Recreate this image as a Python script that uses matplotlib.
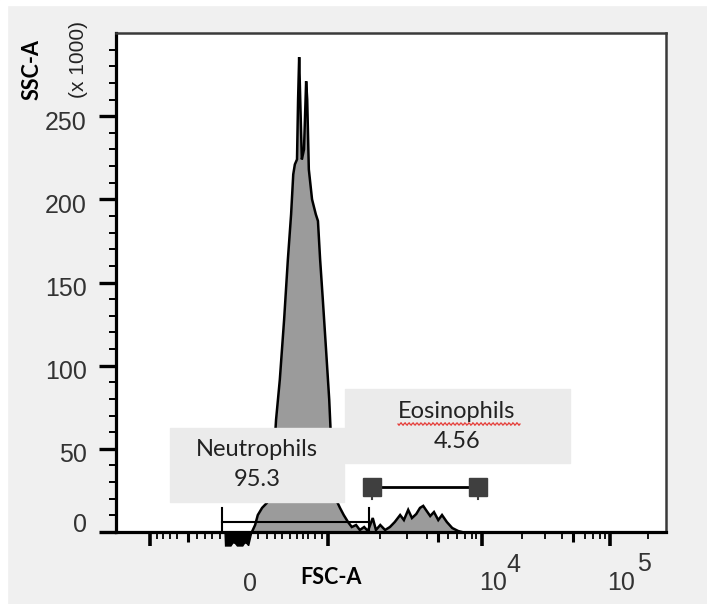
import numpy as np
import matplotlib
matplotlib.use("Agg")
import matplotlib.pyplot as plt
import matplotlib.transforms as mtransforms
from matplotlib.patches import Rectangle

# ---------------- data (FSC-A channel units 0-1024, counts in SSC-A x1000 units) -------------
hist_x = [253, 259, 264, 272, 281, 290, 298, 305, 313, 320, 326, 330, 333, 337, 339, 341, 343,
          346, 350, 354, 356, 359, 365, 372, 376, 380, 385, 391, 397, 402, 410, 417, 424, 432,
          439, 447, 454, 462, 469, 478, 484, 492, 501, 510, 519, 529, 536, 544, 551, 559, 566,
          572, 577, 585, 592, 600, 607, 616, 626, 637, 644]
hist_y = [0, 4.2, 10.2, 14.5, 17.5, 25.3, 67.5, 91.6, 127.7, 163.9, 191, 215, 221, 224, 260,
          285.5, 260, 224, 230, 271, 260, 218, 200, 191, 187, 164, 140, 110, 79.5, 43.4, 19.3,
          14.5, 10.2, 6.0, 3.0, 4.2, 1.2, 3.0, 0.6, 8.4, 1.2, 4.2, 1.2, 3.0, 6.0, 10.2, 7.2,
          13.3, 8.4, 10.8, 14.5, 15.7, 13.3, 9.6, 12, 7.2, 10.2, 6.0, 2.4, 0.6, 0]

# events piled below zero (drawn under the axis in the reference)
neg_x = [203, 204, 214, 218, 222, 226, 236, 240, 244, 247, 253]
neg_y = [0, -8.4, -8.4, -6.5, -6.8, -8.4, -8.4, -6.5, -7.0, -8.2, 0]

gate_names = ["Neutrophils", "Eosinophils"]
gate_pcts = ["95.3", "4.56"]
neut_gate = [197, 471]      # FSC channel range
neut_gate_y = 6.0
eos_gate = [477, 674]
eos_gate_y = 27.1

y_major = [0, 50, 100, 150, 200, 250]
y_minor = list(range(0, 300, 10))

# x-axis tick positions (logicle-like display channels)
x_major = [63, 395, 681, 920]
x_medium = [134, 600, 851]
x_minor = [76, 88, 101, 114, 151, 166, 179, 194, 264, 281, 296, 309, 324, 337, 348, 357, 370,
           384, 492, 542, 579, 618, 635, 650, 663, 670, 756, 799, 830, 873, 888, 901, 910, 991]

# ---------------- figure -------------------------------------------------------------------
W, H = 707, 604
fig = plt.figure(figsize=(W / 100, H / 100), dpi=100)
fig.patch.set_facecolor('#f0f0f0')

def fp(x, y):
    return x / W, 1 - y / H

# white strips on left/top edges
fig.patches.append(Rectangle((0, 0), 7 / W, 1, transform=fig.transFigure, color='white', zorder=0))
fig.patches.append(Rectangle((0, 1 - 5 / H), 1, 5 / H, transform=fig.transFigure, color='white', zorder=0))

ax = fig.add_axes([116 / W, 1 - 532 / H, 550 / W, 499 / H])
ax.set_facecolor('white')
ax.set_xlim(0, 1024)
ax.set_ylim(0, 300)

# histogram
ax.fill_between(hist_x, hist_y, 0, color='#9b9b9b', lw=0, zorder=2)
ax.plot(hist_x, hist_y, color='black', lw=1.8, zorder=3, solid_joinstyle='miter')
ax.fill(neg_x, neg_y, color='black', clip_on=False, zorder=6)

# annotation boxes
tf = fig.transFigure
box_c = '#ebebeb'
ax.add_patch(Rectangle(fp(170, 502), 174 / W, 74 / H, transform=tf, color=box_c, zorder=5, clip_on=False))
ax.add_patch(Rectangle(fp(345, 463), 225 / W, 74 / H, transform=tf, color=box_c, zorder=5, clip_on=False))

afont = dict(family='Lato', fontsize=17, color='#222222', ha='center', va='center', zorder=7)
ax.text(*fp(257, 450), gate_names[0], transform=tf, **afont)
ax.text(*fp(257, 480), gate_pcts[0], transform=tf, **afont)
ax.text(*fp(457, 411), gate_names[1], transform=tf, **afont)
ax.text(*fp(457, 441), gate_pcts[1], transform=tf, **afont)

# red wavy spell-check underline
wx = np.linspace(398, 520, 120)
wy = 424 + 1.3 * np.sin((wx - 398) / 4.0 * 2 * np.pi)
ax.plot(wx / W, 1 - wy / H, transform=tf, color='#e53935', lw=0.9, zorder=8, clip_on=False)

# gates
ax.plot(neut_gate, [neut_gate_y] * 2, color='black', lw=1.5, zorder=6)
for gx in neut_gate:
    ax.plot([gx, gx], [0, 14.5], color='black', lw=1.5, zorder=6)
ax.plot(eos_gate, [eos_gate_y] * 2, color='black', lw=2.0, zorder=6)
for gx in eos_gate:
    ax.plot([gx, gx], [eos_gate_y - 7, eos_gate_y + 3], color='#3f3f3f', lw=1.5, zorder=6)
ax.plot(eos_gate, [eos_gate_y] * 2, ls='none', marker='s', ms=13, color='#3f3f3f', zorder=7)

# spines
for s in ['left', 'bottom']:
    ax.spines[s].set_linewidth(2.3)
    ax.spines[s].set_color('black')
for s in ['top', 'right']:
    ax.spines[s].set_linewidth(1.8)
    ax.spines[s].set_color('#3a3a3a')

# y ticks
ax.set_yticks(y_major)
ax.set_yticks(y_minor, minor=True)
ax.set_yticklabels([str(v) for v in y_major], family='Liberation Sans', fontsize=18, color='#333333')
ax.tick_params(axis='y', which='major', length=12, width=2.4, pad=9, color='black')
ax.tick_params(axis='y', which='minor', length=5, width=1.4, color='black')
for lab, v in zip(ax.get_yticklabels(), y_major):
    dy = 10 / 100 if v == 0 else -4 / 100
    lab.set_transform(lab.get_transform() + mtransforms.ScaledTranslation(0, dy, fig.dpi_scale_trans))

# x ticks drawn manually (three lengths)
ax.set_xticks([])
xt = ax.get_xaxis_transform()
ah = 499.0
for xs, L, w in [(x_major, 14, 2.6), (x_medium, 10, 2.2), (x_minor, 6.5, 1.3)]:
    for x in xs:
        ax.plot([x, x], [0, -L / ah], transform=xt, color='black', lw=w, clip_on=False,
                solid_capstyle='butt', zorder=6)

# x tick labels
lfont = dict(family='Liberation Sans', color='#333333', ha='center', va='center')
fig.text(*fp(250, 584), '0', fontsize=18, **lfont)
fig.text(*fp(493, 583), '10', fontsize=18, **lfont)
fig.text(*fp(513, 565), '4', fontsize=18, **lfont)
fig.text(*fp(621, 583), '10', fontsize=18, **lfont)
fig.text(*fp(644, 564), '5', fontsize=18, **lfont)

# axis titles
fig.text(*fp(331, 577), 'FSC-A', family='Lato', fontweight='bold', fontsize=15.5,
         color='black', ha='center', va='center')
fig.text(*fp(32, 70), 'SSC-A', family='Lato', fontweight='bold', fontsize=15.5,
         color='black', ha='center', va='center', rotation=90)
fig.text(*fp(78, 60), '(x 1000)', family='Liberation Sans', fontsize=15,
         color='#222222', ha='center', va='center', rotation=90)

fig.savefig('out.png', dpi=100, facecolor=fig.get_facecolor())
